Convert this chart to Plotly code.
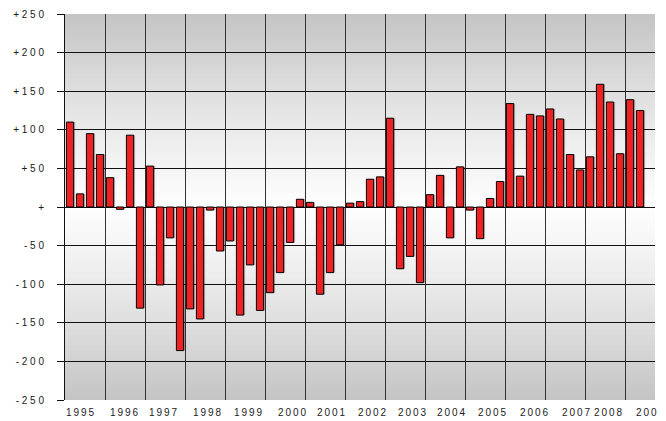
import plotly.graph_objects as go

quarters = list(range(58))
values = [110, 17, 95, 68, 38, -3, 93, -131, 53, -101,
          -40, -186, -132, -145, -4, -57, -44, -140, -75, -134,
          -111, -85, -46, 10, 6, -113, -85, -49, 5, 7,
          36, 39, 115, -80, -64, -98, 16, 41, -40, 52,
          -4, -41, 11, 33, 134, 40, 120, 118, 127, 114,
          68, 48, 65, 159, 136, 69, 139, 125]

year_labels = ["1995", "1996", "1997", "1998", "1999", "2000", "2001", "2002",
               "2003", "2004", "2005", "2006", "2007", "2008", "2009"]
year_label_pos = [1.0, 5.4, 9.3, 13.7, 17.8, 22.2, 26.1, 30.2, 34.2, 38.1,
                  42.2, 46.4, 50.6, 53.8, 58.0]

y_ticks = [250, 200, 150, 100, 50, 0, -50, -100, -150, -200, -250]
y_tick_text = ["+250", "+200", "+150", "+100", "+50", "+", "-50", "-100", "-150", "-200", "-250"]


def spaced(s, sep=" "):
    return sep.join(list(s))


fig = go.Figure()

# shadow
fig.add_trace(go.Bar(
    x=quarters, y=values, width=0.72, offset=-0.36 + 0.15,
    marker=dict(color="rgba(0,0,0,0.28)", line=dict(width=0)),
    hoverinfo="skip", showlegend=False,
))
fig.add_trace(go.Bar(
    x=quarters, y=values, width=0.72, offset=-0.36,
    marker=dict(color="#EE2224", line=dict(color="#000000", width=1)),
    showlegend=False,
))

# gradient background: nested rectangles from outer (dark) to inner (light)
shapes = []
n = 100
for i in range(n, 0, -1):
    t = i / n
    tm = (i - 0.5) / n
    c = int(round(253 - 57 * tm ** 1.2))
    col = f"rgb({c},{c},{c})"
    shapes.append(dict(type="rect", xref="x domain", x0=0, x1=1, yref="y",
                       y0=-250 * t, y1=250 * t,
                       fillcolor=col, line=dict(width=0), layer="below"))

# page body has an 8px default margin; figure sized to fit the 666x421 window
fig.update_layout(
    width=658, height=413,
    margin=dict(l=57, r=11, t=6, b=21),
    paper_bgcolor="white", plot_bgcolor="white",
    barmode="overlay",
    shapes=shapes,
    font=dict(family="Liberation Sans, Arial, sans-serif", size=10, color="#1a1a1a"),
    xaxis=dict(
        range=[-0.5, 58.5], automargin=False,
        tickmode="array", tickvals=year_label_pos,
        ticktext=[spaced(s, "\u2009") for s in year_labels],
        tickangle=0,
        showgrid=False, zeroline=False, showline=False, ticks="",
        ticklabelstandoff=5,
        minor=dict(tickmode="linear", tick0=-0.5, dtick=4, showgrid=True,
                   gridcolor="#333333", gridwidth=1, ticks=""),
    ),
    yaxis=dict(
        range=[-250, 250], automargin=False,
        tickmode="array", tickvals=y_ticks,
        ticktext=[spaced(s) for s in y_tick_text],
        showgrid=True, gridcolor="#111111", gridwidth=1,
        zeroline=True, zerolinecolor="#111111", zerolinewidth=1,
        showline=True, linecolor="#111111", linewidth=1,
        ticks="outside", ticklen=7, tickcolor="#111111",
        ticklabelstandoff=11,
    ),
)

fig.write_html("out.html")
